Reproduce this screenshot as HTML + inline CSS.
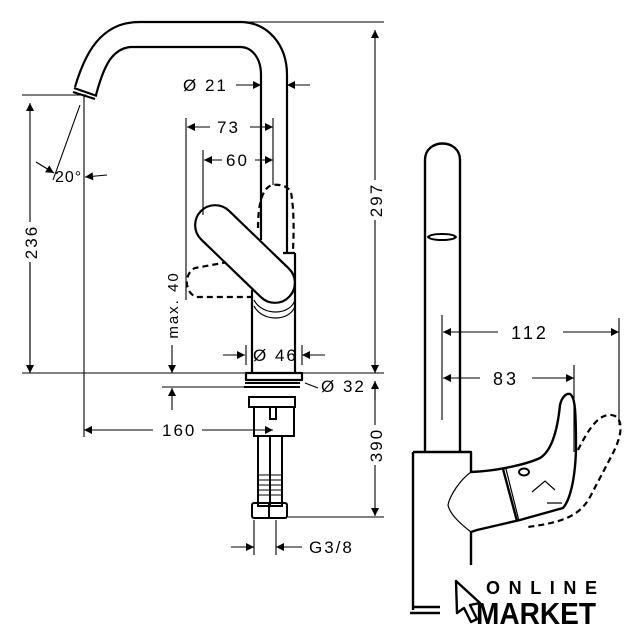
<!DOCTYPE html>
<html><head><meta charset="utf-8"><style>
html,body{margin:0;padding:0;background:#fff}
svg{display:block}
text{font-family:"Liberation Sans",sans-serif;fill:#000}
</style></head><body>
<svg width="642" height="640" viewBox="0 0 642 640" xmlns="http://www.w3.org/2000/svg">
<defs>
<marker id="a" viewBox="0 0 10 10" refX="10" refY="5" markerWidth="10" markerHeight="8" orient="auto-start-reverse" markerUnits="userSpaceOnUse"><path d="M0,0 L10,5 L0,10z" fill="#000"/></marker>
</defs>
<g fill="none" stroke="#000" stroke-width="2.2" stroke-linejoin="round">
<!-- left spout -->
<path d="M75,87 C80,70 88,50 100,38 C112,26 125,22 140,22 L240,22 C268,22 287,45 287,75 L287,253"/>
<path d="M96,95 C100,80 105,65 112,57 C118,50 125,47 132,47 L240,47 C252,47 261,58 261,75 L261,240"/>
<path d="M74,88 L97,96 M73,92 L95,99"/>
<!-- body -->
<path d="M252,290 L252,372 M295,253 L295,372 M283,253 L295,253"/>
<path d="M246,373 L302,373 L302,380 L246,380z"/>
</g>
<g fill="none" stroke="#000" stroke-width="1.2">
<path d="M254,300 C262,316 290,316 295,300 M254,306 C262,322 290,322 295,306"/>
</g>
<g fill="none" stroke="#000" stroke-width="2.2" stroke-dasharray="6,4">
<path d="M258,228 C258,205 262,188 272,185 C280,184 288,186 291,192 C294,210 294,230 293,250"/>
<path d="M228,262 L195,268 C184,273 184,292 196,297 L252,297"/>
</g>
<rect x="183.5" y="234" width="123" height="40" rx="20" transform="rotate(44 245 254)" fill="#fff" stroke="#000" stroke-width="2.2"/>
<!-- under-counter -->
<g fill="none" stroke="#000" stroke-width="2">
<path d="M244,387 L300,387 M245,383 L300,383"/>
<rect x="249" y="397" width="46" height="10"/>
<path d="M254,407 L254,436 L294,436 L294,407"/>
<rect x="270" y="407" width="6" height="12"/>
<rect x="258" y="436" width="24" height="70"/>
<path d="M270,436 L270,506"/>
<rect x="252" y="503" width="35" height="15" rx="2"/>
<path d="M269,503 L269,518"/>
</g>
<g fill="none" stroke="#000" stroke-width="1">
<path d="M258,475 L282,475 M258,480 L282,480 M258,485 L282,485 M258,490 L282,490 M258,495 L282,495"/>
</g>
<!-- dimension lines -->
<g fill="none" stroke="#000" stroke-width="1.1">
<path d="M240,22 L384,22 M22,373 L384,373 M22,95 L86,95 M84,95 L84,437"/>
<path d="M375,30 L375,180 M375,220 L375,373" marker-start="url(#a)" marker-end="url(#a)"/>
<path d="M30,103 L30,222 M30,262 L30,373" marker-start="url(#a)"/>
<path d="M30,262 L30,373" marker-end="url(#a)"/>
<path d="M236,85 L261,85" marker-end="url(#a)"/>
<path d="M310,85 L287,85" marker-end="url(#a)"/>
<path d="M186,118 L186,300 M273,118 L273,185 M203,150 L203,215"/>
<path d="M187,127 L210,127 M250,127 L273,127" marker-start="url(#a)"/>
<path d="M250,127 L273,127" marker-end="url(#a)"/>
<path d="M204,160 L222,160 M255,160 L273,160" marker-start="url(#a)"/>
<path d="M255,160 L273,160" marker-end="url(#a)"/>
<path d="M80,105 L53,180"/>
<path d="M36,162 L54,173" marker-end="url(#a)"/>
<path d="M107,175 L85,177" marker-end="url(#a)"/>
<path d="M172,345 L172,373" marker-end="url(#a)"/>
<path d="M172,410 L172,388" marker-end="url(#a)"/>
<path d="M162,387 L245,387"/>
<path d="M223,355 L245,355" marker-end="url(#a)"/>
<path d="M325,355 L302,355" marker-end="url(#a)"/>
<path d="M246,345 L246,365 M302,345 L302,365"/>
<path d="M305,383 L318,388"/>
<path d="M375,381 L375,425 M375,465 L375,516" marker-end="url(#a)"/>
<path d="M375,400 L375,381" marker-end="url(#a)"/>
<path d="M288,517 L384,517"/>
<path d="M84,430 L153,430" marker-start="url(#a)"/>
<path d="M202,430 L273,430" marker-end="url(#a)"/>
<path d="M231,547 L254,547" marker-end="url(#a)"/>
<path d="M302,547 L276,547" marker-end="url(#a)"/>
<path d="M254,520 L254,555 M276,520 L276,555"/>
<!-- right dims -->
<path d="M442,315 L442,420 M619,318 L619,425 M574,365 L574,452"/>
<path d="M443,332 L498,332" marker-start="url(#a)"/>
<path d="M563,332 L619,332" marker-end="url(#a)"/>
<path d="M443,378 L480,378" marker-start="url(#a)"/>
<path d="M532,378 L574,378" marker-end="url(#a)"/>
</g>
<!-- right faucet -->
<g fill="none" stroke="#000" stroke-width="2.4" stroke-linejoin="round">
<path d="M425,452 L425,160 C425,138 460,138 460,160 L460,452"/>
<path d="M471,565 L471,532 M413,452 L471,452 L471,472 C495,471 525,465 540,458 C553,450 558,425 560,405 C562,396 567,393 570,394 C575,397 576,410 576,450 C575,480 570,500 563,508 L520,520 L477,530 L471,532"/>
<path d="M413,452 L413,610 M413,607 L440,607 M410,613 L440,613"/>
<path d="M503,469 L517,521"/>
</g>
<ellipse cx="442" cy="237" rx="15" ry="4" fill="#000"/>
<ellipse cx="442" cy="237" rx="12" ry="2" fill="#fff"/>
<g fill="none" stroke="#000" stroke-width="1.2">
<path d="M471,472 C460,480 450,495 448,505 C450,515 462,525 471,532"/>
<path d="M506,469 L519,521"/>
<ellipse cx="524" cy="472" rx="5" ry="3.5" stroke-width="2"/>
<path d="M532,492 L545,481 L555,490 M547,503 L562,503"/>
</g>
<path d="M578,450 C588,430 600,410 615,416 C625,422 620,440 612,455 L590,497 C580,515 565,522 528,527" fill="none" stroke="#000" stroke-width="2.2" stroke-dasharray="6,4"/>
<!-- text -->
<text x="183" y="91" font-size="17" letter-spacing="2">Ø 21</text>
<text x="217" y="133" font-size="17" letter-spacing="2">73</text>
<text x="226" y="166" font-size="17" letter-spacing="2">60</text>
<text x="55" y="182" font-size="16" letter-spacing="1">20°</text>
<text x="253" y="361" font-size="17" letter-spacing="2">Ø 46</text>
<text x="321" y="392" font-size="17" letter-spacing="2">Ø 32</text>
<text x="162" y="436" font-size="17" letter-spacing="2">160</text>
<text x="309" y="553" font-size="17" letter-spacing="2">G3/8</text>
<text transform="translate(382,200) rotate(-90)" font-size="17" text-anchor="middle" letter-spacing="2">297</text>
<text transform="translate(37,242) rotate(-90)" font-size="17" text-anchor="middle" letter-spacing="2">236</text>
<text transform="translate(178,305) rotate(-90)" font-size="15" text-anchor="middle" letter-spacing="2">max. 40</text>
<text transform="translate(382,445) rotate(-90)" font-size="17" text-anchor="middle" letter-spacing="2">390</text>
<text x="530" y="339" font-size="18" text-anchor="middle" letter-spacing="3">112</text>
<text x="506" y="385" font-size="18" text-anchor="middle" letter-spacing="3">83</text>
<!-- logo -->
<path d="M456,581 L480,603 L470,605 L477,619 L471,622 L464,608 L457,613 Z" fill="none" stroke="#000" stroke-width="2.4" stroke-linejoin="round"/>
<text x="486" y="594" font-size="18" font-weight="bold" textLength="111" lengthAdjust="spacing">ONLINE</text>
<text x="476" y="624" font-size="31" font-weight="bold" textLength="120" lengthAdjust="spacingAndGlyphs">MARKET</text>
</svg>
</body></html>
